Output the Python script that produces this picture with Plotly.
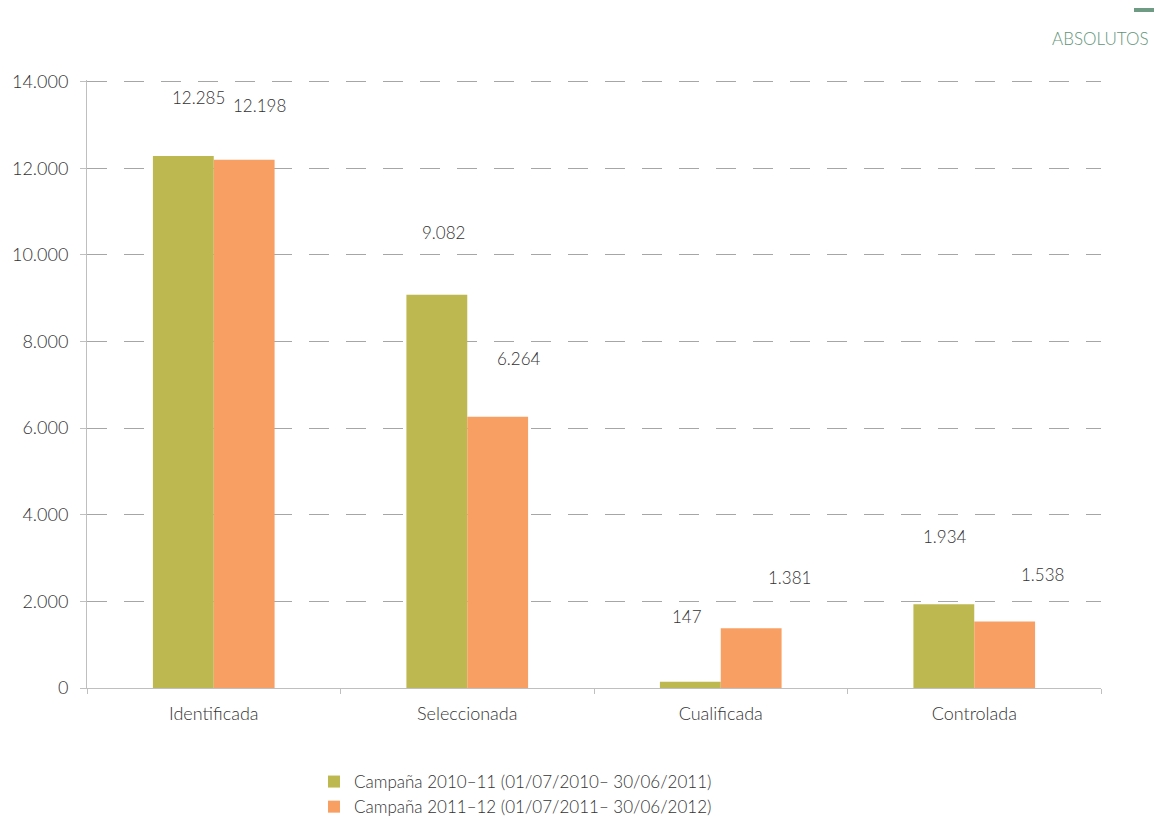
import plotly.graph_objects as go

categories = ["Identificada", "Seleccionada", "Cualificada", "Controlada"]
series_names = ["Campaña 2010–11 (01/07/2010– 30/06/2011)",
                "Campaña 2011–12 (01/07/2011– 30/06/2012)"]
values_1011 = [12285, 9082, 147, 1934]
values_1112 = [12198, 6264, 1381, 1538]
label_1011 = ["12.285", "9.082", "147", "1.934"]
label_1112 = ["12.198", "6.264", "1.381", "1.538"]
y_ticks = [0, 2000, 4000, 6000, 8000, 10000, 12000, 14000]
y_ticktext = ["0", "2.000", "4.000", "6.000", "8.000", "10.000", "12.000", "14.000"]

colors = ["#BDB84F", "#F8A064"]
font_family = "Lato, 'Open Sans', sans-serif"
txt_color = "#333333"
font_weight = 300

fig = go.Figure()
fig.add_trace(go.Bar(x=categories, y=values_1011, name=series_names[0],
                     marker=dict(color=colors[0], line=dict(width=0))))
fig.add_trace(go.Bar(x=categories, y=values_1112, name=series_names[1],
                     marker=dict(color=colors[1], line=dict(width=0))))

# value labels above the bars (offsets relative to each bar's centre)
bar_half = 31
xshifts_a = [16, 7, -3, 2]
xshifts_b = [15, 21, 38, 37]
yshifts_a = [59, 62, 65, 68]
yshifts_b = [54, 58, 51, 47]
for i, c in enumerate(categories):
    fig.add_annotation(x=c, y=values_1011[i], text=label_1011[i], showarrow=False,
                       xshift=-bar_half + xshifts_a[i], yshift=yshifts_a[i],
                       font=dict(size=17, color=txt_color, family=font_family,
                                 weight=font_weight))
    fig.add_annotation(x=c, y=values_1112[i], text=label_1112[i], showarrow=False,
                       xshift=bar_half + xshifts_b[i], yshift=yshifts_b[i],
                       font=dict(size=17, color=txt_color, family=font_family,
                                 weight=font_weight))

# plot area in page pixels: x 87..1101, y 80..688
def px_x(p):
    return (p - 87) / 1014

def px_y(p):
    return (688 - p) / 608

fig.add_annotation(x=px_x(1151), y=px_y(38), xref="paper", yref="paper",
                   text="ABSOLUTOS", showarrow=False, xanchor="right", yanchor="middle",
                   font=dict(size=17, color="#5f957a",
                             family="'Liberation Sans Narrow', Lato, sans-serif"))
fig.add_shape(type="line", xref="paper", yref="paper",
              x0=px_x(1134), x1=px_x(1166), y0=px_y(10), y1=px_y(10),
              line=dict(color="#6f9a83", width=4))

fig.update_layout(
    width=1154, height=816,
    margin=dict(l=79, r=61, t=72, b=136, autoexpand=False),
    plot_bgcolor="white", paper_bgcolor="white",
    barmode="group", bargap=0.52, bargroupgap=0,
    font=dict(family=font_family, size=17, color=txt_color, weight=font_weight),
    showlegend=True,
    legend=dict(x=px_x(314), y=px_y(764), xref="paper", yref="paper",
                xanchor="left", yanchor="top", orientation="v",
                font=dict(size=17, color=txt_color, family=font_family,
                          weight=font_weight),
                itemwidth=30, tracegroupgap=0, bgcolor="rgba(0,0,0,0)"),
    xaxis=dict(
        showline=True, linecolor="#bfbfbf", linewidth=1,
        ticks="outside", tickson="boundaries", ticklen=5, tickcolor="#bfbfbf",
        ticklabelstandoff=9,
        tickfont=dict(size=18, color=txt_color, weight=font_weight),
    ),
    yaxis=dict(
        range=[0, 14040], tickvals=y_ticks, ticktext=y_ticktext,
        showline=True, linecolor="#bfbfbf", linewidth=1,
        ticks="outside", ticklen=6, tickcolor="#bfbfbf",
        ticklabelstandoff=8,
        showgrid=True, gridcolor="#a6a6a6", gridwidth=1, griddash="20px,17px",
        zeroline=False,
        tickfont=dict(size=18, color=txt_color, weight=font_weight),
    ),
)

fig.write_html("out.html")
